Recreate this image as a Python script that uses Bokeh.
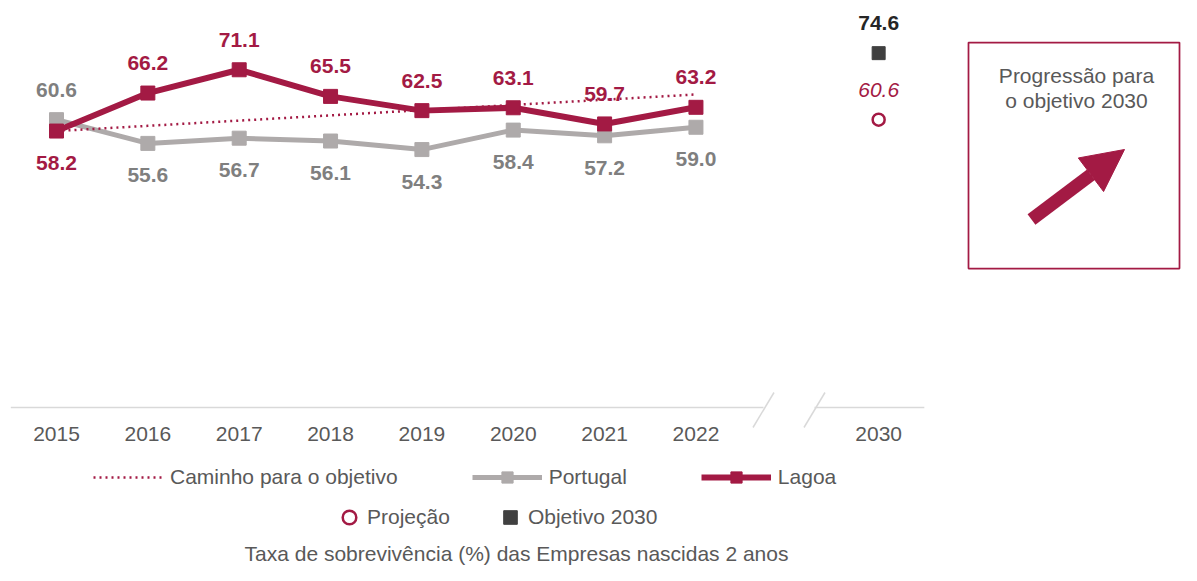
from bokeh.plotting import figure
from bokeh.models import Range1d, Legend, LegendItem, Arrow, NormalHead
from bokeh.core.properties import value
from bokeh.embed import file_html
from bokeh.resources import INLINE

# ---------------- data ----------------
years = ["2015", "2016", "2017", "2018", "2019", "2020", "2021", "2022"]
target_year = "2030"
tick_labels = years + [target_year]
lagoa = [58.2, 66.2, 71.1, 65.5, 62.5, 63.1, 59.7, 63.2]
portugal = [60.6, 55.6, 56.7, 56.1, 54.3, 58.4, 57.2, 59.0]
caminho = [58.2, 59.3, 60.4, 61.5, 62.6, 63.7, 64.8, 65.9]
projecao_2030 = [60.6]
objetivo_2030 = [74.6]
caption = "Taxa de sobrevivência (%) das Empresas nascidas 2 anos"

lagoa_label_above = [False, True, True, True, True, True, True, True]
portugal_label_above = [True, False, False, False, False, False, False, False]

# ---------------- layout helpers (reference pixel -> data) ----------------
X0_PX, DX = 56.0, 91.35     # x pixel of first category, px per category
Y0_PX, DY = 407.0, 4.75     # y pixel of value 0, px per unit
W, H = 1181, 565


def fx(px):
    return (px - X0_PX) / DX


def fy(py):
    return (Y0_PX - py) / DY


CRIMSON = "#A31A44"
GRAY = "#AEAAAA"
GRAY_LBL = "#7F7F7F"
TXT = "#595959"
FONT = value("Liberation Sans")

xs = list(range(len(years)))
x_target = len(years) + 1          # one empty slot for the axis break
tick_x = xs + [x_target]

p = figure(width=W, height=H, output_backend="svg", toolbar_location=None,
           x_range=Range1d(fx(0), fx(W)),
           y_range=Range1d(fy(H), fy(0)),
           x_axis_type=None, y_axis_type=None, min_border=0,
           outline_line_color=None, background_fill_color="white",
           border_fill_color="white")
p.grid.visible = False

# ---------------- broken x axis ----------------
brk_l, brk_r = fx(763), fx(814)
p.segment(x0=[-0.5, brk_r], y0=[0, 0], x1=[brk_l, x_target + 0.5], y1=[0, 0],
          line_color="#D9D9D9", line_width=1.5)
sdx, sdy, scy = 10.5 / DX, 17.5 / DY, fy(409.5)
p.segment(x0=[brk_l - sdx, brk_r - sdx], y0=[scy - sdy, scy - sdy],
          x1=[brk_l + sdx, brk_r + sdx], y1=[scy + sdy, scy + sdy],
          line_color="#D9D9D9", line_width=1.5)
p.text(x=tick_x, y=[fy(433)] * len(tick_x), text=tick_labels,
       text_font=FONT, text_font_size="21px", text_color=TXT,
       text_align="center", text_baseline="middle")

# ---------------- series ----------------
r_pt_line = p.line(xs, portugal, line_color=GRAY, line_width=5)
r_pt_sq = p.scatter(xs, portugal, marker="square", size=14, color=GRAY)
r_cam = p.line(xs, caminho, line_color=CRIMSON, line_width=2.5, line_dash="2 4")
r_lg_line = p.line(xs, lagoa, line_color=CRIMSON, line_width=6)
r_lg_sq = p.scatter(xs, lagoa, marker="square", size=14, color=CRIMSON)
r_obj = p.scatter([x_target], objetivo_2030, marker="square", size=13,
                  fill_color="#404040", line_color="#404040", line_width=1)
r_proj = p.scatter([x_target], projecao_2030, marker="circle", size=12,
                   fill_color="white", line_color=CRIMSON, line_width=2.5)

LBL_OFF = 30.0 / DY


def label_y(vals, above):
    return [v + LBL_OFF if a else v - LBL_OFF - 2.0 / DY for v, a in zip(vals, above)]


p.text(x=xs, y=label_y(portugal, portugal_label_above), text=[f"{v:.1f}" for v in portugal],
       text_font=FONT, text_font_size="21px", text_font_style="bold",
       text_color=GRAY_LBL, text_align="center", text_baseline="middle")
p.text(x=xs, y=label_y(lagoa, lagoa_label_above), text=[f"{v:.1f}" for v in lagoa],
       text_font=FONT, text_font_size="21px", text_font_style="bold",
       text_color=CRIMSON, text_align="center", text_baseline="middle")
p.text(x=[x_target], y=label_y(objetivo_2030, [True]), text=[f"{v:.1f}" for v in objetivo_2030],
       text_font=FONT, text_font_size="21px", text_font_style="bold",
       text_color="#262626", text_align="center", text_baseline="middle")
p.text(x=[x_target], y=label_y(projecao_2030, [True]), text=[f"{v:.1f}" for v in projecao_2030],
       text_font=FONT, text_font_size="21px", text_font_style="italic",
       text_color=CRIMSON, text_align="center", text_baseline="middle")

# ---------------- side box ----------------
p.quad(left=[fx(968)], right=[fx(1179)], top=[fy(42)], bottom=[fy(268)],
       fill_color=None, line_color=CRIMSON, line_width=1.75)
p.text(x=[fx(1076), fx(1076)], y=[fy(75), fy(100)],
       text=["Progressão para", "o objetivo 2030"],
       text_font=FONT, text_font_size="21px", text_color=TXT,
       text_align="center", text_baseline="middle")
p.add_layout(Arrow(end=NormalHead(size=42, fill_color=CRIMSON, line_color=CRIMSON, line_width=1),
                   x_start=fx(1031), y_start=fy(219), x_end=fx(1124), y_end=fy(149),
                   line_color=CRIMSON, line_width=13))

# ---------------- legends ----------------
common = dict(orientation="horizontal", padding=0, margin=0, border_line_color=None,
              background_fill_alpha=0, label_text_font="Liberation Sans",
              label_text_font_size="21px", label_text_color=TXT)
leg1 = Legend(items=[LegendItem(label="Caminho para o objetivo", renderers=[r_cam]),
                     LegendItem(label="Portugal", renderers=[r_pt_line, r_pt_sq]),
                     LegendItem(label="Lagoa", renderers=[r_lg_line, r_lg_sq])],
              location=(93, H - 491), glyph_width=70, glyph_height=28,
              label_standoff=7, spacing=74, **common)
leg2 = Legend(items=[LegendItem(label="Projeção", renderers=[r_proj]),
                     LegendItem(label="Objetivo 2030", renderers=[r_obj])],
              location=(332, H - 534), glyph_width=34, glyph_height=34,
              label_standoff=1, spacing=43, **common)
p.add_layout(leg1)
p.add_layout(leg2)

# caption (slightly raised so it fits inside the canvas)
p.text(x=[fx(516)], y=[fy(553)], text=[caption],
       text_font=FONT, text_font_size="21px", text_color=TXT,
       text_align="center", text_baseline="middle")

open("out.html", "w").write(file_html(p, INLINE))
